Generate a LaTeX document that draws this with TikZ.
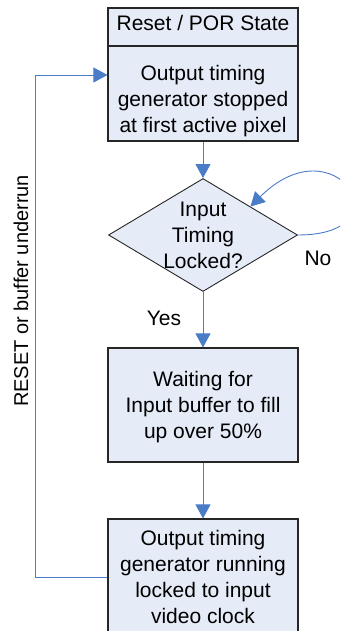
\documentclass[tikz,border=0pt]{standalone}
\usepackage{fontspec}
\setmainfont{Liberation Sans}
\usetikzlibrary{shapes.geometric,arrows.meta}
\definecolor{boxfill}{HTML}{E6ECF7}
\definecolor{flowblue}{HTML}{4A7CC7}
\tikzset{
  box/.style={draw=black!85, fill=boxfill, line width=1.1pt, minimum width=190pt, align=center, inner sep=0pt},
  decision/.style={diamond, draw=black!85, fill=boxfill, line width=0.9pt, minimum width=189pt, minimum height=113pt, inner sep=0pt},
  flow/.style={draw=flowblue, line width=0.9pt, -{Triangle[length=14pt,width=15pt]}},
}
\begin{document}
\begin{tikzpicture}[x=1pt,y=-1pt,font=\fontsize{21}{26}\selectfont]
\useasboundingbox (0,0) rectangle (340,631);
\clip (0,0) rectangle (340,631);

% boxes
\node[box, minimum height=38pt] (reset) at (203,27) {};
\node[box, minimum height=95pt] (stopped) at (203,93.5) {};
\node[decision] (locked) at (203,235) {};
\node[box, minimum height=114pt] (waiting) at (203,405) {};
\node[box, minimum height=116pt] (running) at (203,577) {Output timing\\generator running\\locked to input\\video clock};

% box texts
\node (resettxt) at (203,23) {Reset / POR State};
\node[align=center] (stoppedtxt) at (203,101) {Output timing\\generator stopped\\at first active pixel};
\node[align=center] (lockedtxt) at (locked) {Input\\Timing\\Locked?};
\node[align=center] (waitingtxt) at (203,407) {Waiting for\\Input buffer to fill\\up over 50\%};

\draw[flow] (stopped) -- (locked);
\draw[flow] (locked) -- (waiting);
\draw[flow] (waiting) -- (running);
\draw[flow] (locked.east) .. controls +(110,0) and +(85,-85) .. (locked.north east);
\draw[flow] (running.west) -- ++(-72,0) |- ([yshift=18.5pt]stopped.west);

\node (no) at (318,258) {No};
\node (yes) at (164,318) {Yes};
\node[rotate=90, font=\fontsize{20}{24}\selectfont] (reason) at (21,291) {RESET or buffer underrun};
\end{tikzpicture}
\end{document}
